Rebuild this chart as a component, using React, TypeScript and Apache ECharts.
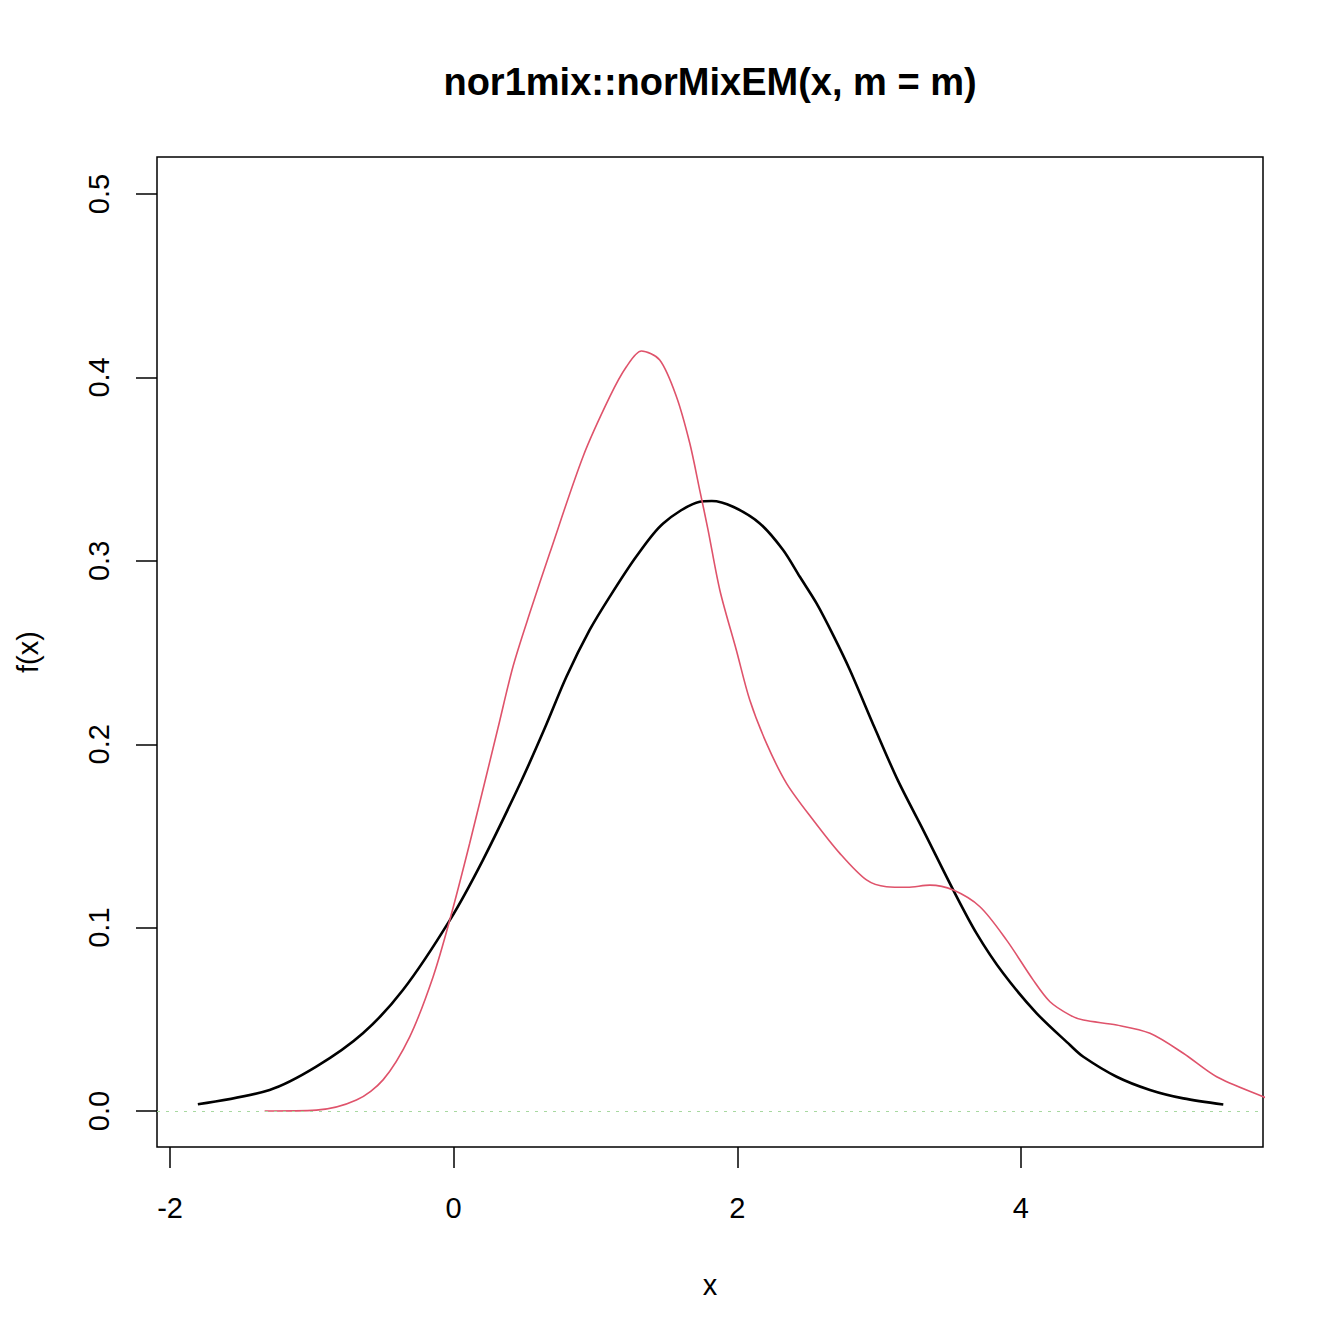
import React, { useEffect, useRef } from "react";
import * as echarts from "echarts";

const blackX = [-1.804, -1.298, -0.969, -0.64, -0.358, -0.028, 0.207, 0.477, 0.642, 0.795, 0.959, 1.101, 1.289, 1.477, 1.735, 1.82, 1.97, 2.159, 2.323, 2.441, 2.559, 2.676, 2.794, 2.97, 3.134, 3.311, 3.523, 3.687, 3.875, 4.111, 4.346, 4.44, 4.675, 4.91, 5.145, 5.427];
const blackY = [0.0037, 0.0115, 0.0242, 0.0424, 0.066, 0.104, 0.137, 0.18, 0.2087, 0.2368, 0.2623, 0.2805, 0.3025, 0.3204, 0.3322, 0.3326, 0.3295, 0.3204, 0.3059, 0.2913, 0.2768, 0.2595, 0.2405, 0.2087, 0.18, 0.1532, 0.1205, 0.0969, 0.0751, 0.0533, 0.036, 0.0296, 0.0187, 0.0115, 0.0069, 0.0036];

const redX = [-1.333, -0.969, -0.686, -0.498, -0.31, -0.146, -0.028, 0.113, 0.312, 0.418, 0.536, 0.677, 0.912, 1.101, 1.218, 1.324, 1.453, 1.571, 1.665, 1.735, 1.794, 1.877, 1.993, 2.088, 2.206, 2.347, 2.535, 2.723, 2.911, 3.052, 3.2, 3.358, 3.523, 3.711, 3.899, 4.087, 4.205, 4.346, 4.44, 4.675, 4.91, 5.145, 5.38, 5.709, 5.8];
const redY = [0, 0.0005, 0.006, 0.017, 0.0405, 0.073, 0.104, 0.146, 0.2087, 0.2423, 0.2714, 0.3041, 0.3568, 0.3895, 0.4058, 0.4144, 0.4095, 0.3895, 0.3641, 0.3386, 0.3168, 0.284, 0.2514, 0.2241, 0.2005, 0.1787, 0.1587, 0.1405, 0.126, 0.1223, 0.122, 0.1232, 0.1205, 0.1114, 0.0932, 0.0714, 0.0596, 0.0523, 0.0496, 0.0469, 0.0424, 0.0315, 0.0187, 0.0078, 0.005];

const xTicks = [-2, 0, 2, 4];
const yTicks = [0, 0.1, 0.2, 0.3, 0.4, 0.5];

const TITLE = "nor1mix::norMixEM(x, m = m)";
const X_NAME = "x";
const Y_NAME = "f(x)";

const FONT = "Liberation Sans, Arial, Helvetica, sans-serif";

export default function App() {
  const ref = useRef<HTMLDivElement>(null);
  useEffect(() => {
    if (!ref.current) return;
    const chart = echarts.init(ref.current, null, { renderer: "svg" });
    const zip = (xs: number[], ys: number[]) => xs.map((x, i) => [x, ys[i]]);
    chart.setOption({
      animation: false,
      backgroundColor: "#ffffff",
      grid: { left: 157, top: 157, width: 1106, height: 990, show: true, borderColor: "#000", borderWidth: 1.5, backgroundColor: "transparent" },
      graphic: [
        { type: "text", x: 710, y: 82, style: { text: TITLE, font: `bold 38px ${FONT}`, fill: "#000", textAlign: "center", textVerticalAlign: "middle" } },
        { type: "text", x: 710, y: 1285, style: { text: X_NAME, font: `29px ${FONT}`, fill: "#000", textAlign: "center", textVerticalAlign: "middle" } },
        { type: "text", x: 28, y: 652, rotation: Math.PI / 2, style: { text: Y_NAME, font: `29px ${FONT}`, fill: "#000", textAlign: "center", textVerticalAlign: "middle" } },
      ],
      xAxis: {
        type: "value",
        min: -2.092,
        max: 5.707,
        axisLine: { show: false, onZero: false },
        splitLine: { show: false },
        axisTick: { show: true, inside: false, length: 21, lineStyle: { color: "#000", width: 1.5 }, customValues: xTicks },
        axisLabel: { show: true, margin: 46, fontSize: 29, fontFamily: FONT, color: "#000", customValues: xTicks, formatter: (v: number) => String(v) },
      },
      yAxis: {
        type: "value",
        min: -0.0196,
        max: 0.5202,
        axisLine: { show: false, onZero: false },
        splitLine: { show: false },
        axisTick: { show: true, inside: false, length: 21, lineStyle: { color: "#000", width: 1.5 }, customValues: yTicks },
        axisLabel: { show: true, rotate: 90, margin: 44, fontSize: 29, fontFamily: FONT, color: "#000", customValues: yTicks, formatter: (v: number) => v.toFixed(1) },
      },
      series: [
        {
          type: "line",
          data: zip(blackX, blackY),
          smooth: 0.3,
          showSymbol: false,
          lineStyle: { color: "#000", width: 2.6 },
          markLine: {
            silent: true,
            symbol: "none",
            label: { show: false },
            lineStyle: { color: "#a8d8a0", type: [3, 6], width: 1 },
            data: [{ yAxis: 0 }],
          },
        },
        {
          type: "line",
          data: zip(redX, redY),
          smooth: 0.3,
          showSymbol: false,
          clip: true,
          lineStyle: { color: "#DF536B", width: 1.6 },
        },
      ],
    });
    return () => chart.dispose();
  }, []);
  return <div ref={ref} style={{ position: "fixed", left: 0, top: 0, width: 1344, height: 1344 }} />;
}
